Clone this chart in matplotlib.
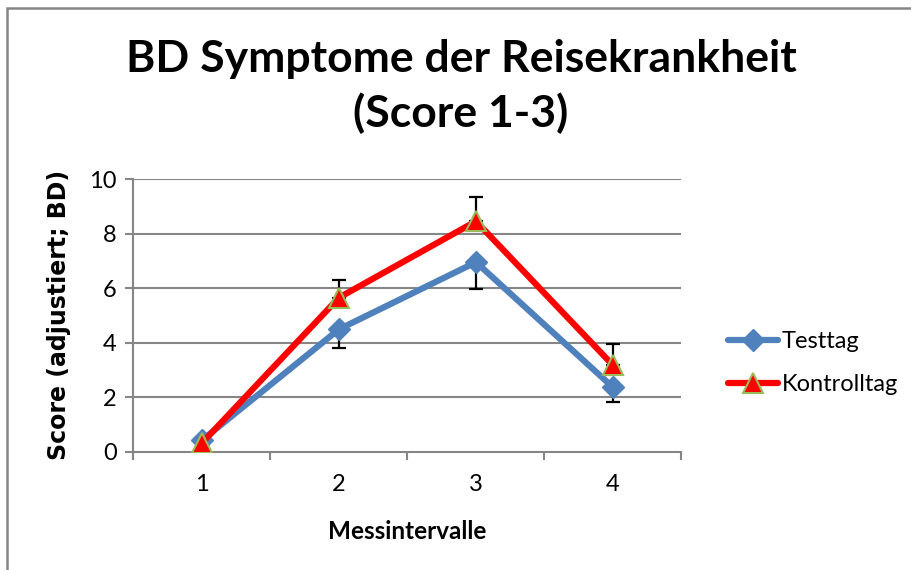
import matplotlib
matplotlib.use("Agg")
import matplotlib.pyplot as plt
from matplotlib.patches import Rectangle
from matplotlib.lines import Line2D

categories = ["1", "2", "3", "4"]
testtag = [0.42, 4.49, 6.95, 2.36]
kontrolltag = [0.32, 5.65, 8.45, 3.17]
testtag_err_minus = [0.0, 0.67, 0.97, 0.54]
kontrolltag_err_plus = [0.0, 0.65, 0.88, 0.79]
yticks = [0, 2, 4, 6, 8, 10]

BLUE = "#4F81BD"
RED = "#FF0000"
GREEN = "#9BBB59"
GRID = "#868686"

fig = plt.figure(figsize=(9.12, 5.70), dpi=100)
W, H = 912, 570
ax = fig.add_axes([133.5 / W, 1 - 451.7 / H, (681.5 - 133.5) / W, (451.7 - 179) / H])

x = list(range(len(categories)))

# error bars (behind lines)
zeros = [0] * len(x)
ax.errorbar(x, testtag, yerr=[testtag_err_minus, zeros], fmt="none",
            ecolor="black", elinewidth=1.6, capsize=5, capthick=1.6, zorder=2)
ax.errorbar(x, kontrolltag, yerr=[zeros, kontrolltag_err_plus], fmt="none",
            ecolor="black", elinewidth=1.6, capsize=5, capthick=1.6, zorder=2)

ax.plot(x, testtag, color=BLUE, lw=4.5, marker="D", ms=11, mfc=BLUE, mec=BLUE,
        solid_capstyle="round", zorder=3, label="Testtag")
ax.plot(x, kontrolltag, color=RED, lw=4.5, marker="^", ms=14, mfc=RED, mec=GREEN,
        mew=1.5, solid_capstyle="round", zorder=4, label="Kontrolltag")

ax.set_xlim(-0.5, len(categories) - 0.5)
ax.set_ylim(0, 10)
ax.set_yticks(yticks)
ax.set_xticks(x)
ax.set_xticklabels(categories)
ax.set_xticks([i - 0.5 for i in range(len(categories) + 1)], minor=True)

for v in yticks[1:]:
    ax.axhline(v, color=GRID, lw=1.5, zorder=1)

for s in ["top", "right"]:
    ax.spines[s].set_visible(False)
for s in ["left", "bottom"]:
    ax.spines[s].set_color(GRID)
    ax.spines[s].set_linewidth(1.5)

ax.tick_params(axis="x", which="major", length=0, pad=16, labelsize=17)
ax.tick_params(axis="x", which="minor", length=6, width=1.5, color=GRID, direction="out")
ax.tick_params(axis="y", length=6, width=1.5, color=GRID, direction="out", pad=6, labelsize=17)
for lab in ax.get_xticklabels() + ax.get_yticklabels():
    lab.set_fontfamily("Lato")

ax.set_xlabel("Messintervalle", fontsize=17.5, fontweight="bold", family="Lato", labelpad=18)
ax.set_ylabel("Score (adjustiert; BD)", fontsize=17, fontweight="bold", family="DejaVu Sans", labelpad=13)

fig.text(461 / W, 1 - 59 / H, "BD Symptome der Reisekrankheit", ha="center", va="center",
         fontsize=32, fontweight="bold", family="Lato")
fig.text(461 / W, 1 - 113 / H, "(Score 1-3)", ha="center", va="center",
         fontsize=32, fontweight="bold", family="Lato")

# legend
handles = [
    Line2D([0], [0], color=BLUE, lw=4.5, marker="D", ms=11, mfc=BLUE, mec=BLUE, solid_capstyle="round"),
    Line2D([0], [0], color=RED, lw=4.5, marker="^", ms=14, mfc=RED, mec=GREEN, mew=1.5, solid_capstyle="round"),
]
leg = fig.legend(handles, ["Testtag", "Kontrolltag"], loc="center left",
                 bbox_to_anchor=(719 / W, 1 - 363 / H), frameon=False,
                 prop={"family": "Lato", "size": 17}, handlelength=2.1,
                 handletextpad=0.15, labelspacing=0.95, borderaxespad=0)

# outer chart border
fig.patches.append(Rectangle((7.5 / W, -0.1), 1.2, 1 - 7.5 / H + 0.1, transform=fig.transFigure,
                             fill=False, edgecolor=GRID, lw=1.8))

fig.savefig("out.png", dpi=100)
